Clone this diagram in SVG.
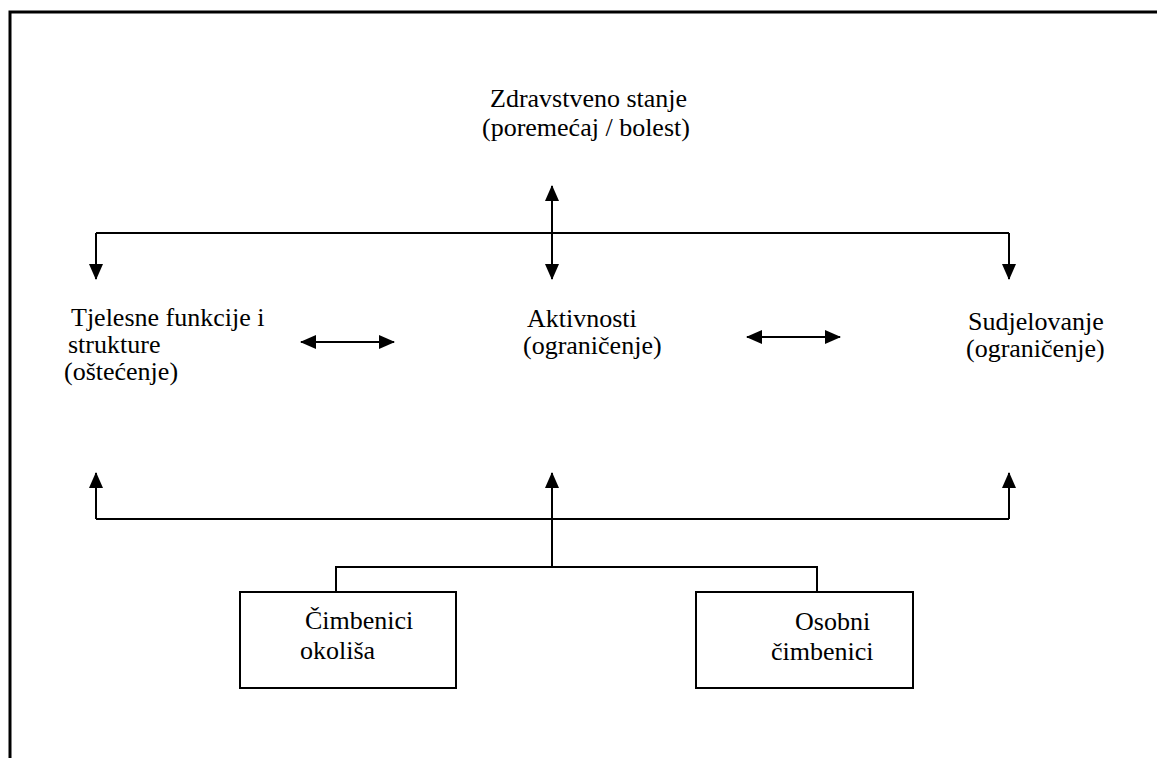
<svg xmlns="http://www.w3.org/2000/svg" width="1157" height="758" viewBox="0 0 1157 758">
<defs>
<style>
.ln{fill:none;stroke:#000;stroke-width:2}
.box{fill:#fff;stroke:#000;stroke-width:2}
.border{fill:none;stroke:#000;stroke-width:3}
.t{font-family:'Liberation Serif','Tinos','Times New Roman','Noto Serif','DejaVu Serif',serif;font-size:26px;fill:#000}
</style>
<marker id="ah" markerUnits="userSpaceOnUse" markerWidth="16" markerHeight="16" viewBox="0 0 16 14" refX="15" refY="7" orient="auto-start-reverse">
<path d="M0,0 L16,7 L0,14 Z" fill="#000"/>
</marker>
</defs>
<rect width="1157" height="758" fill="#fff"/>
<path class="border" d="M10,758 L10,12 L1157,12"/>
<g id="connectors">
<path class="ln" d="M552,186 L552,279" marker-start="url(#ah)" marker-end="url(#ah)"/>
<path class="ln" d="M96,233 L1009,233"/>
<path class="ln" d="M96,233 L96,279" marker-end="url(#ah)"/>
<path class="ln" d="M1009,233 L1009,279" marker-end="url(#ah)"/>
<path class="ln" d="M301,342 L394,342" marker-start="url(#ah)" marker-end="url(#ah)"/>
<path class="ln" d="M747,337 L840,337" marker-start="url(#ah)" marker-end="url(#ah)"/>
<path class="ln" d="M96,519 L1009,519"/>
<path class="ln" d="M96,519 L96,473" marker-end="url(#ah)"/>
<path class="ln" d="M1009,519 L1009,473" marker-end="url(#ah)"/>
<path class="ln" d="M552,567 L552,473" marker-end="url(#ah)"/>
<path class="ln" d="M336,592 L336,567 L817,567 L817,592"/>
</g>
<g id="zdravstveno" class="t">
<text x="490" y="107">Zdravstveno stanje</text>
<text x="482" y="136">(poremećaj / bolest)</text>
</g>
<g id="tjelesne" class="t">
<text x="71" y="326">Tjelesne funkcije i</text>
<text x="68" y="353">strukture</text>
<text x="64" y="380">(oštećenje)</text>
</g>
<g id="aktivnosti" class="t">
<text x="527" y="327">Aktivnosti</text>
<text x="523" y="354">(ograničenje)</text>
</g>
<g id="sudjelovanje" class="t">
<text x="968" y="330">Sudjelovanje</text>
<text x="966" y="357">(ograničenje)</text>
</g>
<g id="okolis" class="t">
<rect class="box" x="240" y="592" width="216" height="96"/>
<text x="305" y="629">Čimbenici</text>
<text x="300" y="659">okoliša</text>
</g>
<g id="osobni" class="t">
<rect class="box" x="696" y="592" width="217" height="96"/>
<text x="795" y="630">Osobni</text>
<text x="771" y="660">čimbenici</text>
</g>
</svg>
